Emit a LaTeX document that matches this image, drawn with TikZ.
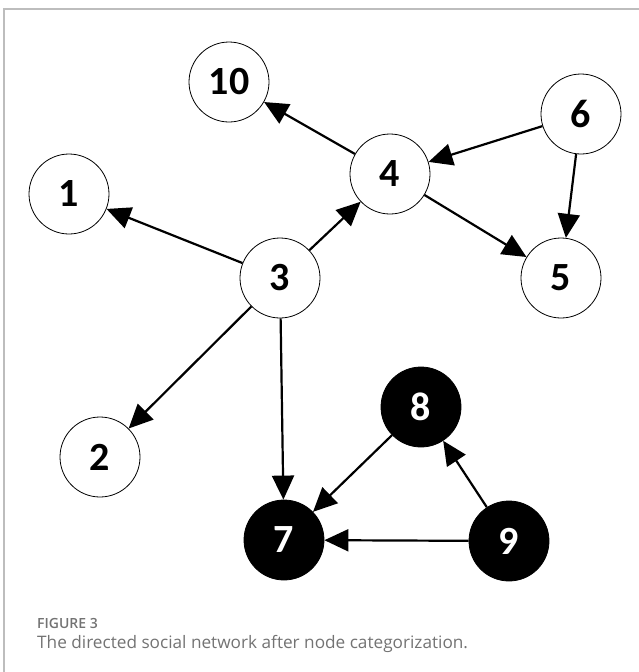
\documentclass[tikz,border=0pt]{standalone}
\usepackage{fontspec}
\setmainfont{Open Sans}
\newfontfamily\lblfont{Carlito}
\usetikzlibrary{arrows.meta}
\definecolor{capgray}{HTML}{737373}
\definecolor{framegray}{HTML}{BDBDBD}
\begin{document}
\begin{tikzpicture}[x=1pt,y=-1pt,
  wn/.style={circle, draw=black, line width=0.8pt, minimum size=80pt, inner sep=0pt, font=\lblfont\bfseries\fontsize{40}{40}\selectfont},
  bn/.style={wn, fill=black, text=white},
  arr/.style={line width=2.2pt, -{Triangle[length=24pt,width=22pt]}}]
\useasboundingbox (0,0) rectangle (639,672);
\draw[framegray, line width=1.2pt] (4,672) -- (4,9) -- (639,9);
\node[wn] (n10) at (229,82) {10};
\node[wn] (n6) at (581,114) {6};
\node[wn] (n4) at (390,174) {4};
\node[wn] (n1) at (69,194) {1};
\node[wn] (n3) at (280,278) {3};
\node[wn] (n5) at (561,278) {5};
\node[bn] (n8) at (421,407) {8};
\node[wn] (n2) at (100,457) {2};
\node[bn] (n7) at (284,540) {7};
\node[bn] (n9) at (509,541) {9};
\draw[arr] (n4) -- (n10);
\draw[arr] (n6) -- (n4);
\draw[arr] (n6) -- (n5);
\draw[arr] (n4) -- (n5);
\draw[arr] (n3) -- (n4);
\draw[arr] (n3) -- (n1);
\draw[arr] (n3) -- (n2);
\draw[arr] (n3) -- (n7);
\draw[arr] (n8) -- (n7);
\draw[arr] (n9) -- (n8);
\draw[arr] (n9) -- (n7);
\node[anchor=west, inner sep=0pt, text=capgray, font=\fontsize{14}{14}\selectfont] (fig) at (37,623) {\fontspec{Open Sans Semibold}FIGURE 3};
\node[anchor=west, inner sep=0pt, text=capgray, font=\fontsize{17.2}{17.2}\selectfont] (cap) at (37,644) {The directed social network after node categorization.};
\end{tikzpicture}
\end{document}
